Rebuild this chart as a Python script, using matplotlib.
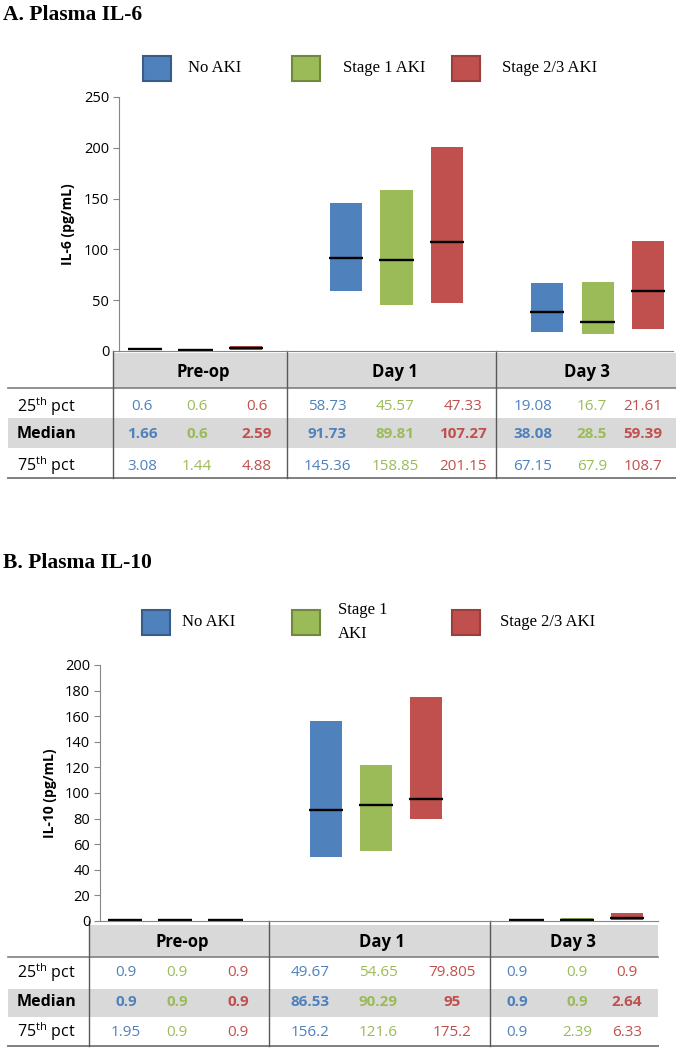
import numpy as np
import matplotlib
matplotlib.use("Agg")
import matplotlib.pyplot as plt
from matplotlib.patches import Rectangle

plt.rcParams["mathtext.fontset"] = "custom"
plt.rcParams["mathtext.rm"] = "Open Sans"

groups = ["Pre-op", "Day 1", "Day 3"]
series = ["No AKI", "Stage 1 AKI", "Stage 2/3 AKI"]
series_b = ["No AKI", "Stage 1\nAKI", "Stage 2/3 AKI"]
row_names = ["25$^{\\mathrm{th}}$ pct", "Median", "75$^{\\mathrm{th}}$ pct"]

# values per series (No AKI, Stage 1, Stage 2/3) x group (Pre-op, Day 1, Day 3)
il6_q25 = [[0.6, 58.73, 19.08], [0.6, 45.57, 16.7], [0.6, 47.33, 21.61]]
il6_med = [[1.66, 91.73, 38.08], [0.6, 89.81, 28.5], [2.59, 107.27, 59.39]]
il6_q75 = [[3.08, 145.36, 67.15], [1.44, 158.85, 67.9], [4.88, 201.15, 108.7]]

il10_q25 = [[0.9, 49.67, 0.9], [0.9, 54.65, 0.9], [0.9, 79.805, 0.9]]
il10_med = [[0.9, 86.53, 0.9], [0.9, 90.29, 0.9], [0.9, 95, 2.64]]
il10_q75 = [[1.95, 156.2, 0.9], [0.9, 121.6, 2.39], [0.9, 175.2, 6.33]]

colors = ["#4F81BD", "#9BBB59", "#C0504D"]
edges = ["#385D8A", "#71893F", "#9A3F3C"]
W, H = 676, 1048
sans = "Open Sans"
serif = "Liberation Serif"

fig = plt.figure(figsize=(W / 100, H / 100), dpi=100)
ov = fig.add_axes([0, 0, 1, 1], zorder=0)
ov.set_xlim(0, W)
ov.set_ylim(H, 0)
ov.axis("off")


def frac(x0, x1, ytop, ybot):
    return [x0 / W, 1 - ybot / H, (x1 - x0) / W, (ybot - ytop) / H]


def panel(title, ty, leg, labels, box, xlim, ymax, ystep, ylabel, ylx,
          q25, med, q75, tab):
    ov.text(3, ty, title, family=serif, weight="bold", fontsize=15.5,
            va="center", ha="left")

    # legend
    sq_y, sq_h, sq_w = leg["y"], 25, 28
    for i in range(3):
        ov.add_patch(Rectangle((leg["x"][i], sq_y - sq_h / 2), sq_w, sq_h,
                               facecolor=colors[i], edgecolor=edges[i], lw=1.5))
        ov.text(leg["tx"][i], sq_y, labels[i], family=serif, fontsize=12,
                va="center", ha="left", linespacing=1.6)

    # chart
    ax = fig.add_axes(frac(*box), zorder=2)
    ax.set_facecolor("none")
    ax.set_xlim(*xlim)
    ax.set_ylim(0, ymax)
    ax.set_yticks(np.arange(0, ymax + 1, ystep))
    for s in ["top", "right"]:
        ax.spines[s].set_visible(False)
    ax.spines["left"].set_color("#868686")
    ax.spines["bottom"].set_color("#868686")
    ax.set_xticks([])
    ax.tick_params(axis="y", direction="out", length=4, color="#868686",
                   labelsize=10.5, pad=3)
    for lab in ax.get_yticklabels():
        lab.set_family(sans)
    ax.set_ylabel(ylabel, family=sans, weight="bold", fontsize=10)
    ax.yaxis.set_label_coords((ylx - box[0]) / (box[1] - box[0]), 0.5)

    for i in range(3):
        x = np.arange(3) * 4 + i
        lo = np.array(q25[i])
        hi = np.array(q75[i])
        ax.bar(x, hi - lo, bottom=lo, width=0.64, color=colors[i], lw=0)
        ax.hlines(med[i], x - 0.34, x + 0.34, color="black", lw=1.7)

    # table below the axis
    t = tab
    ov.add_patch(Rectangle((t["seps"][0], t["band"][0]), t["right"] - t["seps"][0],
                           t["band"][1] - t["band"][0], facecolor="#D9D9D9", lw=0))
    ov.add_patch(Rectangle((8, t["mband"][0]), t["right"] - 8,
                           t["mband"][1] - t["mband"][0], facecolor="#D9D9D9", lw=0))
    ov.plot([8, t["right"]], [t["band"][1]] * 2, color="#7F7F7F", lw=1.2)
    ov.plot([8, t["right"]], [t["bottom"]] * 2, color="#7F7F7F", lw=1.4)
    for sx in t["seps"]:
        ov.plot([sx, sx], [t["top"], t["bottom"]], color="#595959", lw=1.0)
    for g in range(3):
        ov.text(t["hx"][g], t["hy"], groups[g], family=sans, weight="bold",
                fontsize=12, ha="center", va="center")
    vals = [q25, med, q75]
    for r in range(3):
        ov.text(17, t["rows"][r], row_names[r], family=sans, fontsize=11.5,
                weight="bold" if r == 1 else "normal", ha="left", va="center")
        for g in range(3):
            for i in range(3):
                ov.text(t["cx"][g][i], t["rows"][r], "%g" % vals[r][i][g],
                        family=sans, fontsize=11, color=colors[i],
                        weight="bold" if r == 1 else "normal",
                        ha="center", va="center")


panel("A. Plasma IL-6", 15,
      {"y": 68, "x": [143, 292, 452], "tx": [188, 343, 502]}, series,
      (119, 673, 97, 351), (-0.52, 10.5), 250, 50, "IL-6 (pg/mL)", 75,
      il6_q25, il6_med, il6_q75,
      {"seps": [113, 287, 496], "right": 676, "top": 351, "bottom": 478,
       "band": (353, 388), "mband": (418, 448), "hy": 372,
       "rows": [407, 434, 466], "hx": [203, 395, 587],
       "cx": [[142, 197, 257], [327, 395, 463], [533, 592, 643]]})

panel("B. Plasma IL-10", 563,
      {"y": 622, "x": [142, 292, 452], "tx": [182, 338, 500]}, series_b,
      (100, 658, 665, 921), (-0.5, 10.62), 200, 20, "IL-10 (pg/mL)", 57,
      il10_q25, il10_med, il10_q75,
      {"seps": [89, 269, 490], "right": 658, "top": 921, "bottom": 1046,
       "band": (925, 957), "mband": (989, 1017), "hy": 942,
       "rows": [973, 1002, 1032], "hx": [182, 382, 573],
       "cx": [[126, 177, 238], [310, 378, 452], [517, 577, 627]]})

fig.savefig("out.png", dpi=100)
